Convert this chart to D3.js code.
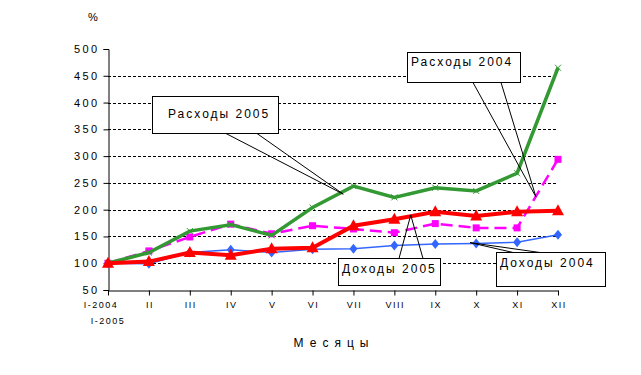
<!DOCTYPE html>
<html>
<head>
<meta charset="utf-8">
<script src="https://cdn.jsdelivr.net/npm/d3@7"></script>
<style>
  body { margin: 0; background: #fff; }
  text { font-family: "Liberation Sans", Arial, sans-serif; fill: #000; }
</style>
</head>
<body>
<svg id="chart"></svg>
<script>
const months = ["I", "II", "III", "IV", "V", "VI", "VII", "VIII", "IX", "X", "XI", "XII"];
const yTicks = [50, 100, 150, 200, 250, 300, 350, 400, 450, 500];

const dohody2004 = [100, 99, 120, 125, 120, 126, 127, 133, 136, 137, 139, 153];
const rashody2004 = [100, 123, 149, 173, 155, 170, 164, 157, 174, 166, 166, 294];
const rashody2005 = [100, 120, 160, 172, 152, 204, 244, 223, 241, 235, 268, 465];
const dohody2005 = [100, 103, 120, 115, 127, 129, 170, 182, 196, 188, 196, 198];

const svgObj = { width: 641, height: 375 };
const svg = d3.select("#chart")
  .attr("width", svgObj.width)
  .attr("height", svgObj.height);

const x = d3.scalePoint().domain(months).range([108, 558]);
const y = d3.scaleLinear().domain([50, 500]).range([290, 49]);
// fractional month index -> pixel, used for callout tips
const xi = (i) => x(months[0]) + i * x.step();

// gridlines
svg.append("g")
  .selectAll("line")
  .data(yTicks.filter(d => d > 50 && d < 500))
  .join("line")
  .attr("x1", x(months[0]))
  .attr("x2", x(months[months.length - 1]))
  .attr("y1", d => Math.round(y(d)) + 0.5)
  .attr("y2", d => Math.round(y(d)) + 0.5)
  .attr("stroke", "#000")
  .attr("stroke-dasharray", "3,2");

// y axis
const yAxis = svg.append("g")
  .attr("transform", `translate(${x(months[0]) + 0.5},0)`)
  .call(d3.axisLeft(y).tickValues(yTicks).tickSize(5).tickPadding(4));
yAxis.select(".domain").attr("stroke", "#000");
yAxis.selectAll(".tick line").attr("stroke", "#000");
yAxis.selectAll(".tick text")
  .attr("font-size", 11)
  .attr("font-family", "Liberation Sans, Arial, sans-serif")
  .style("letter-spacing", "2.4px")
  .attr("fill", "#000");

// x axis
const xAxis = svg.append("g")
  .attr("transform", `translate(0,${y(50) + 0.5})`)
  .call(d3.axisBottom(x).tickSize(5).tickSizeOuter(0).tickFormat(() => ""));
xAxis.select(".domain").attr("stroke", "#000");
xAxis.selectAll(".tick line").attr("stroke", "#000");

const xLabels = svg.append("g");
months.forEach((m, i) => {
  if (i === 0) {
    xLabels.append("text")
      .attr("x", x(m) - 7)
      .attr("y", 308)
      .attr("text-anchor", "middle")
      .attr("font-size", 9)
      .style("letter-spacing", "1.5px")
      .text("I-2004");
    xLabels.append("text")
      .attr("x", x(m))
      .attr("y", 324)
      .attr("text-anchor", "middle")
      .attr("font-size", 9)
      .style("letter-spacing", "1.5px")
      .text("I-2005");
  } else {
    xLabels.append("text")
      .attr("x", x(m) + 1)
      .attr("y", 308)
      .attr("text-anchor", "middle")
      .attr("font-size", 9)
      .style("letter-spacing", "1.5px")
      .text(m);
  }
});

svg.append("text")
  .attr("x", 334)
  .attr("y", 347)
  .attr("text-anchor", "middle")
  .attr("font-size", 12)
  .style("letter-spacing", "6px")
  .text("Месяцы");

svg.append("text")
  .attr("x", 93)
  .attr("y", 21)
  .attr("text-anchor", "middle")
  .attr("font-size", 11)
  .text("%");

const line = d3.line().x((d, i) => x(months[i])).y(d => y(d));

// Доходы 2004 - blue, thin, diamonds
svg.append("path")
  .datum(dohody2004)
  .attr("d", line)
  .attr("fill", "none")
  .attr("stroke", "#3366ff")
  .attr("stroke-width", 1.5);
svg.append("g")
  .selectAll("path")
  .data(dohody2004)
  .join("path")
  .attr("transform", (d, i) => `translate(${x(months[i])},${y(d)})`)
  .attr("d", "M0,-5L4,0L0,5L-4,0Z")
  .attr("fill", "#3366ff");

// Расходы 2004 - magenta, dashed, squares
svg.append("path")
  .datum(rashody2004)
  .attr("d", line)
  .attr("fill", "none")
  .attr("stroke", "#ff00ff")
  .attr("stroke-width", 2.5)
  .attr("stroke-dasharray", "12,6");
svg.append("g")
  .selectAll("rect")
  .data(rashody2004)
  .join("rect")
  .attr("x", (d, i) => x(months[i]) - 3.5)
  .attr("y", d => y(d) - 3.5)
  .attr("width", 7)
  .attr("height", 7)
  .attr("fill", "#ff00ff");

// Расходы 2005 - green, thick, x markers
svg.append("path")
  .datum(rashody2005)
  .attr("d", line)
  .attr("fill", "none")
  .attr("stroke", "#339933")
  .attr("stroke-width", 3.5);
svg.append("g")
  .selectAll("path")
  .data(rashody2005)
  .join("path")
  .attr("transform", (d, i) => `translate(${x(months[i])},${y(d)})`)
  .attr("d", "M-3,-3L3,3M-3,3L3,-3")
  .attr("stroke", "#339933")
  .attr("stroke-width", 1);

// Доходы 2005 - red, thick, triangles
svg.append("path")
  .datum(dohody2005)
  .attr("d", line)
  .attr("fill", "none")
  .attr("stroke", "#ff0000")
  .attr("stroke-width", 4);
svg.append("g")
  .selectAll("path")
  .data(dohody2005)
  .join("path")
  .attr("transform", (d, i) => `translate(${x(months[i])},${y(d)})`)
  .attr("d", "M0,-6.5L6,4.5L-6,4.5Z")
  .attr("fill", "#ff0000");

// callouts: box in pixels, tip at (month index, value)
const callouts = [
  { label: "Расходы 2005", box: [152, 96, 126, 37], tx: 168, ty: 118, base: [226, 257], fromBottom: true, tip: [5.75, 229] },
  { label: "Расходы 2004", box: [407, 52, 113, 30], tx: 411, ty: 66, base: [473, 501], fromBottom: true, tip: [10.46, 224] },
  { label: "Доходы 2005", box: [338, 258, 102, 27], tx: 342, ty: 273, base: [399, 423], fromBottom: false, tip: [7.4, 190] },
  { label: "Доходы 2004", box: [496, 252, 109, 34], tx: 500, ty: 267, base: [513, 540], fromBottom: false, tip: [8.85, 138.5] }
];

callouts.forEach(c => {
  const g = svg.append("g");
  const [bx, by, bw, bh] = c.box;
  g.append("rect")
    .attr("x", bx + 0.5)
    .attr("y", by + 0.5)
    .attr("width", bw)
    .attr("height", bh)
    .attr("fill", "#fff")
    .attr("stroke", "#000");
  c.base.forEach(b => {
    g.append("line")
      .attr("x1", b)
      .attr("y1", by + (c.fromBottom ? bh : 0) + 0.5)
      .attr("x2", xi(c.tip[0]))
      .attr("y2", y(c.tip[1]))
      .attr("stroke", "#000")
      .attr("stroke-width", 1);
  });
  g.append("text")
    .attr("x", c.tx)
    .attr("y", c.ty)
    .attr("font-size", 12)
    .style("letter-spacing", "2px")
    .text(c.label);
});
</script>
</body>
</html>
